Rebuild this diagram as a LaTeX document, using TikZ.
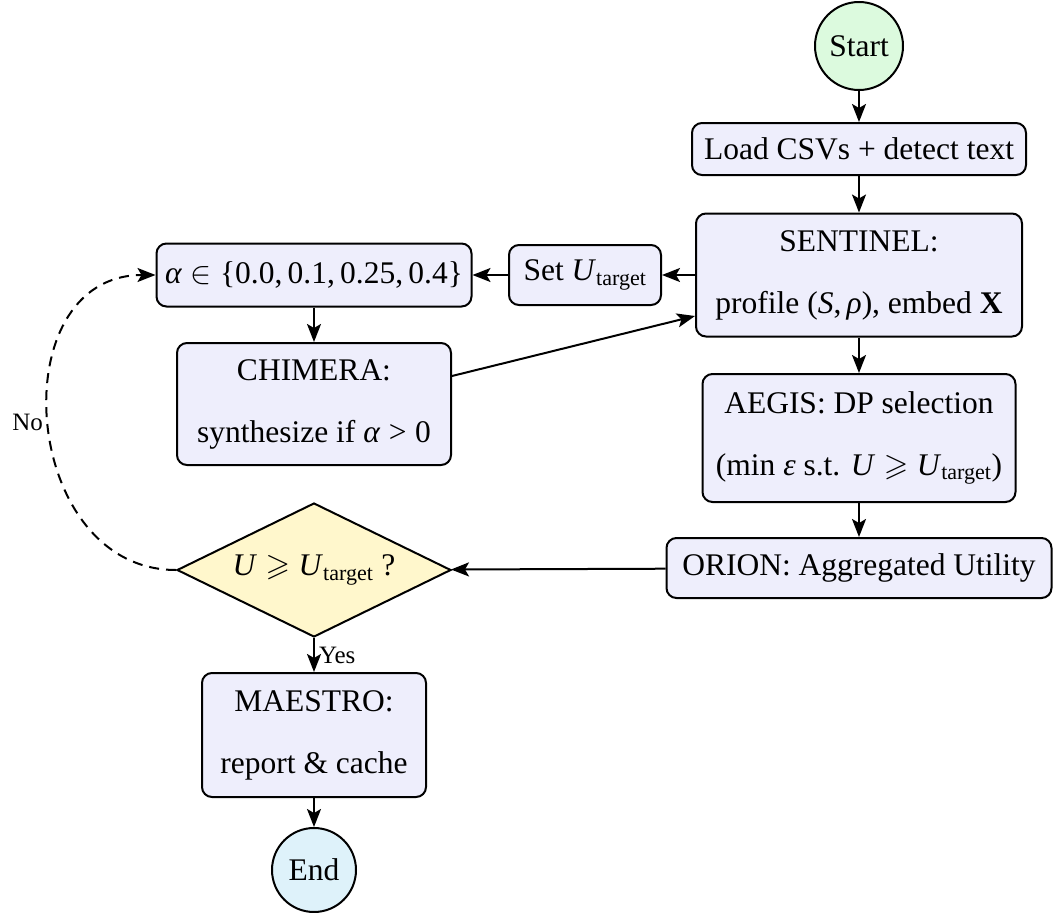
\RequirePackage{fix-cm}
\documentclass[tikz,border=0pt]{standalone}
\usepackage{amsmath,amssymb}
\usepackage{fontspec}
\setmainfont{Liberation Serif}
\usetikzlibrary{shapes.geometric,arrows.meta}

\definecolor{boxfill}{RGB}{238,238,252}
\definecolor{startfill}{RGB}{220,250,222}
\definecolor{endfill}{RGB}{222,242,250}
\definecolor{decfill}{RGB}{255,247,204}

% italic symbols set in the text face, relations with math spacing
\newcommand{\iv}[1]{\textit{#1}}
\newcommand{\rel}[1]{\hspace{0.27em}#1\hspace{0.27em}}
\newcommand{\Utgt}{\iv{U}$_{\text{target}}$}
\newcommand{\geqs}{\rel{$\geqslant$}}

\tikzset{
  base/.style={draw=black, line width=2pt, font=\fontsize{31.5}{38}\selectfont, align=center, inner sep=0pt},
  procbox/.style={base, rectangle, rounded corners=10pt, fill=boxfill},
  term/.style={base, circle, inner sep=2pt},
  decision/.style={base, diamond, aspect=2, fill=decfill},
  flow/.style={line width=2pt, -{Stealth[length=18pt,width=14pt,inset=4pt]}},
  lbl/.style={font=\fontsize{25}{30}\selectfont},
}

\begin{document}
\begin{tikzpicture}[x=1pt,y=-1pt]
  \useasboundingbox (0,0) rectangle (1053,913);

  % right column
  \node[term, fill=startfill, minimum size=88pt] (start) at (859,46) {Start};
  \node[procbox, minimum width=334pt, minimum height=52pt] (load) at (859,149) {Load CSVs + detect text};
  \node[procbox, minimum width=326pt, minimum height=123pt] (sent) at (859,275)
    {SENTINEL:\\[24pt]profile (\iv{S},\,\iv{ρ}), embed \textbf{X}};
  \node[procbox, minimum width=313pt, minimum height=128pt] (aegis) at (859,438)
    {AEGIS: DP selection\\[24pt](min \iv{ε} s.t. \iv{U}\geqs\Utgt)};
  \node[procbox, minimum width=385pt, minimum height=60pt] (orion) at (859,568) {ORION: Aggregated Utility};

  % middle and left column
  \node[procbox, minimum width=152pt, minimum height=60pt] (setu) at (585,275) {Set \Utgt};
  \node[procbox, minimum width=315pt, minimum height=63pt] (alpha) at (314,275)
    {\iv{α}\rel{$\in$}\{0.0,\,0.1,\,0.25,\,0.4\}};
  \node[procbox, minimum width=274pt, minimum height=122pt] (chim) at (314,404)
    {CHIMERA:\\[24pt]synthesize if \iv{α}\rel{>}0};
  \node[decision, minimum width=274pt, minimum height=134pt] (dec) at (314,570)
    {\iv{U}\geqs\Utgt\ ?};
  \node[procbox, minimum width=224pt, minimum height=124pt] (mae) at (314,735)
    {MAESTRO:\\[24pt]report \& cache};
  \node[term, fill=endfill, minimum size=84pt] (end) at (314,870) {End};

  % connectors
  \draw[flow] (start) -- (load);
  \draw[flow] (load) -- (sent);
  \draw[flow] (sent) -- (setu);
  \draw[flow] (setu) -- (alpha);
  \draw[flow] (alpha) -- (chim);
  \draw[flow] ([yshift=28pt]chim.east) -- ([yshift=-41pt]sent.west);
  \draw[flow] (sent) -- (aegis);
  \draw[flow] (aegis) -- (orion);
  \draw[flow] (orion) -- (dec);
  \draw[flow] (dec) -- node[lbl, right, inner sep=4pt] {Yes} (mae);
  \draw[flow] (mae) -- (end);
  \draw[flow, dashed, dash pattern=on 10pt off 7pt] (dec.west)
    to[out=180, in=180, looseness=1.35] node[lbl, left, inner sep=5pt] {No} (alpha.west);
\end{tikzpicture}
\end{document}
